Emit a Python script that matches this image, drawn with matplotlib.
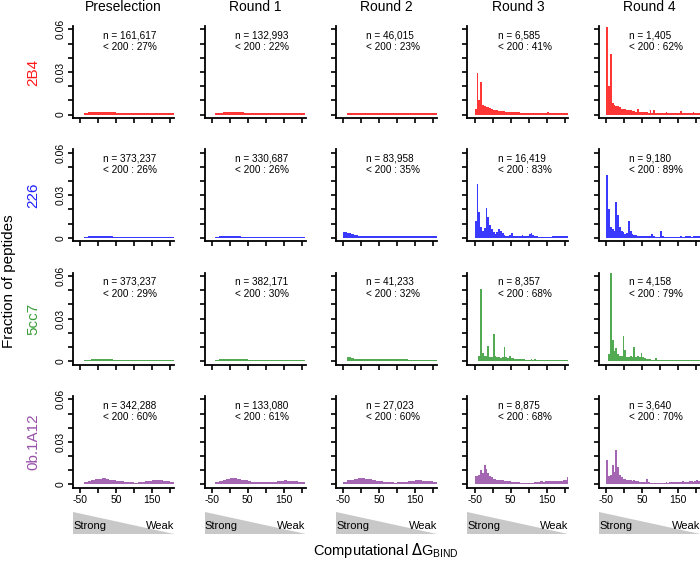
import numpy as np
import matplotlib
matplotlib.use("Agg")
import matplotlib.pyplot as plt
from matplotlib.patches import Polygon

plt.rcParams["font.family"] = ["Liberation Sans", "DejaVu Sans"]

# ---- labels ----
rounds = ["Preselection", "Round 1", "Round 2", "Round 3", "Round 4"]
targets = ["2B4", "226", "5cc7", "0b.1A12"]
target_colors = ["#ff1a1a", "#1f1fff", "#3a9e3a", "#9850a8"]

n_counts = [
    ["161,617", "132,993", "46,015", "6,585", "1,405"],
    ["373,237", "330,687", "83,958", "16,419", "9,180"],
    ["373,237", "382,171", "41,233", "8,357", "4,158"],
    ["342,288", "133,080", "27,023", "8,875", "3,640"],
]
pct_below_200 = [
    [27, 22, 23, 41, 62],
    [26, 26, 35, 83, 89],
    [29, 30, 32, 68, 79],
    [60, 61, 60, 68, 70],
]

# ---- histogram heights (fraction of peptides), bins span -50..210 ----
# 26 values -> 10-unit bins, 52 values -> 5-unit bins
b2b4_pre = [0, 0.0014, 0.0015, 0.0015, 0.0016, 0.0016, 0.0016, 0.0016, 0.0015, 0.0015,
            0.0014, 0.0014, 0.0013, 0.0013, 0.0012, 0.0012, 0.0012, 0.0011, 0.0011, 0.0011,
            0.0011, 0.0011, 0.0010, 0.0010, 0.0010, 0.0010]
b2b4_r1 = [0, 0.0012, 0.0014, 0.0015, 0.0016, 0.0016, 0.0016, 0.0015, 0.0015, 0.0014,
           0.0014, 0.0013, 0.0013, 0.0013, 0.0012, 0.0012, 0.0012, 0.0011, 0.0011, 0.0011,
           0.0011, 0.0011, 0.0010, 0.0010, 0.0010, 0.0010]
b2b4_r2 = [0, 0.0014, 0.0013, 0.0013, 0.0012, 0.0012, 0.0012, 0.0012, 0.0011, 0.0011,
           0.0011, 0.0011, 0.0011, 0.0011, 0.0012, 0.0011, 0.0011, 0.0011, 0.0011, 0.0011,
           0.0011, 0.0011, 0.0011, 0.0011, 0.0011, 0.0011]
b2b4_r3 = [0.004, 0.029, 0.010, 0.023, 0.007, 0.006, 0.0055, 0.005, 0.0045, 0.004,
           0.0035, 0.003, 0.003, 0.0028, 0.0025, 0.0024, 0.0022, 0.002, 0.002, 0.0018,
           0.0018, 0.0016, 0.0016, 0.0015, 0.0015, 0.0014, 0.0014, 0.0013, 0.0013, 0.0013,
           0.0012, 0.0012, 0.0012, 0.0012, 0.0011, 0.0012, 0.0011, 0.0011, 0.0012, 0.0011,
           0.0018, 0.0011, 0.0012, 0.0011, 0.0012, 0.0011, 0.0011, 0.0014, 0.0011, 0.0012,
           0.0011, 0.0011]
b2b4_r4 = [0.062, 0.020, 0.043, 0.008, 0.007, 0.006, 0.006, 0.005, 0.004, 0.004,
           0.004, 0.0035, 0.003, 0.003, 0.0025, 0.0025, 0.002, 0.004, 0.002, 0.002,
           0.0018, 0.0015, 0.0015, 0.0012, 0.0035, 0.0012, 0.003, 0.0012, 0.0010, 0.0010,
           0.0010, 0.0012, 0.0010, 0.0015, 0.0010, 0.0010, 0.0012, 0.0010, 0.0010, 0.0012,
           0.0010, 0.0025, 0.0010, 0.0010, 0.0012, 0.0010, 0.0010, 0.0012, 0.0015, 0.0010,
           0.0012, 0.0010]

b226_pre = [0, 0.0009, 0.0010, 0.0010, 0.0010, 0.0010, 0.0010, 0.0010, 0.0010, 0.0009,
            0.0009, 0.0009, 0.0009, 0.0009, 0.0009, 0.0009, 0.0009, 0.0009, 0.0009, 0.0009,
            0.0009, 0.0009, 0.0009, 0.0009, 0.0009, 0.0009]
b226_r1 = [0, 0.0009, 0.0010, 0.0010, 0.0010, 0.0010, 0.0010, 0.0010, 0.0009, 0.0009,
           0.0009, 0.0009, 0.0009, 0.0009, 0.0009, 0.0009, 0.0009, 0.0009, 0.0009, 0.0009,
           0.0009, 0.0009, 0.0009, 0.0009, 0.0009, 0.0009]
b226_r2 = [0.0045, 0.0035, 0.0025, 0.0020, 0.0015, 0.0013, 0.0012, 0.0012, 0.0012, 0.0011,
           0.0011, 0.0011, 0.0011, 0.0010, 0.0010, 0.0010, 0.0010, 0.0010, 0.0010, 0.0010,
           0.0011, 0.0011, 0.0011, 0.0010, 0.0010, 0.0010]
b226_r3 = [0.012, 0.0377, 0.018, 0.008, 0.005, 0.007, 0.021, 0.015, 0.009, 0.006,
           0.004, 0.003, 0.0045, 0.0065, 0.005, 0.0035, 0.002, 0.0015, 0.0015, 0.0018,
           0.0035, 0.0015, 0.0012, 0.0012, 0.0010, 0.0010, 0.0023, 0.0010, 0.0010, 0.0010,
           0.0025, 0.0035, 0.0020, 0.0012, 0.0010, 0.0008, 0.0008, 0.0008, 0.0008, 0.0008,
           0.0008, 0.0008, 0.0008, 0.0010, 0.0010, 0.0012, 0.0015, 0.0012, 0.0010, 0.0010,
           0.0015, 0.0012]
b226_r4 = [0.044, 0.020, 0.008, 0.006, 0.005, 0.0256, 0.016, 0.008, 0.005, 0.004,
           0.003, 0.0035, 0.0116, 0.005, 0.003, 0.002, 0.0018, 0.0015, 0.0012, 0.0012,
           0.0010, 0.0010, 0.0010, 0.0010, 0.0010, 0.003, 0.0010, 0.0008, 0.0008, 0.0008,
           0.0046, 0.0015, 0.0008, 0.0008, 0.0008, 0.0008, 0.0008, 0.0008, 0.0008, 0.0008,
           0.0008, 0.0010, 0.0008, 0.0008, 0.0010, 0.0012, 0.0010, 0.0008, 0.0010, 0.0012,
           0.0015, 0.0012]

b5cc7_pre = [0, 0.0009, 0.0011, 0.0012, 0.0013, 0.0014, 0.0014, 0.0013, 0.0012, 0.0011,
             0.0011, 0.0010, 0.0010, 0.0010, 0.0010, 0.0010, 0.0010, 0.0009, 0.0009, 0.0009,
             0.0009, 0.0009, 0.0009, 0.0009, 0.0009, 0.0009]
b5cc7_r1 = [0, 0.0010, 0.0012, 0.0013, 0.0014, 0.0015, 0.0015, 0.0014, 0.0013, 0.0012,
            0.0011, 0.0011, 0.0010, 0.0010, 0.0010, 0.0010, 0.0010, 0.0010, 0.0009, 0.0009,
            0.0009, 0.0009, 0.0009, 0.0009, 0.0009, 0.0009]
b5cc7_r2 = [0, 0.0030, 0.0020, 0.0018, 0.0016, 0.0015, 0.0015, 0.0014, 0.0014, 0.0015,
            0.0016, 0.0017, 0.0016, 0.0015, 0.0014, 0.0013, 0.0012, 0.0012, 0.0011, 0.0011,
            0.0011, 0.0010, 0.0010, 0.0010, 0.0010, 0.0010]
b5cc7_r3 = [0, 0, 0.004, 0.0505, 0.006, 0.004, 0.004, 0.0105, 0.003, 0.003,
            0.019, 0.004, 0.003, 0.003, 0.0025, 0.003, 0.010, 0.003, 0.0025, 0.0035,
            0.0025, 0.0020, 0.0015, 0.0015, 0.0015, 0.0012, 0.0012, 0.0015, 0.0010, 0.0010,
            0.0010, 0.0012, 0.0010, 0.0015, 0.0010, 0.0010, 0.0010, 0.0008, 0.0008, 0.0008,
            0.0008, 0.0008, 0.0010, 0.0008, 0.0008, 0.0008, 0.0010, 0.0008, 0.0008, 0.0008,
            0.0008, 0.0008]
b5cc7_r4 = [0, 0.005, 0.062, 0.015, 0.007, 0.009, 0.005, 0.004, 0.004, 0.018,
            0.008, 0.003, 0.003, 0.0035, 0.003, 0.010, 0.003, 0.0035, 0.003, 0.006,
            0.003, 0.002, 0.0015, 0.0015, 0.0012, 0.0010, 0.0010, 0.0025, 0.0008, 0.0006,
            0.0006, 0.0005, 0.0006, 0.0005, 0.0005, 0.0006, 0.0005, 0.0005, 0.0005, 0.0005,
            0.0005, 0.0005, 0.0008, 0.0005, 0.0005, 0.0005, 0.0008, 0.0005, 0.0008, 0.0005,
            0.0008, 0.0005]

b0b_pre = [0, 0.0018, 0.0025, 0.0032, 0.0038, 0.0042, 0.0043, 0.0040, 0.0035, 0.0030,
           0.0026, 0.0022, 0.0019, 0.0017, 0.0015, 0.0014, 0.0015, 0.0018, 0.0022, 0.0026,
           0.0030, 0.0031, 0.0029, 0.0026, 0.0022, 0.0020]
b0b_r1 = [0, 0.0020, 0.0028, 0.0035, 0.0040, 0.0044, 0.0043, 0.0040, 0.0035, 0.0030,
          0.0025, 0.0021, 0.0018, 0.0016, 0.0015, 0.0015, 0.0017, 0.0020, 0.0024, 0.0027,
          0.0029, 0.0028, 0.0026, 0.0023, 0.0021, 0.0019]
b0b_r2 = [0.0015, 0.0030, 0.0035, 0.0040, 0.0045, 0.0045, 0.0042, 0.0038, 0.0033, 0.0028,
          0.0024, 0.0020, 0.0017, 0.0015, 0.0014, 0.0015, 0.0018, 0.0021, 0.0024, 0.0027,
          0.0030, 0.0029, 0.0027, 0.0025, 0.0023, 0.0021]
b0b_r3 = [0.006, 0.006, 0.007, 0.0105, 0.008, 0.0135, 0.011, 0.008, 0.006, 0.005,
          0.004, 0.0038, 0.0035, 0.0033, 0.003, 0.003, 0.0028, 0.0025, 0.0025, 0.0022,
          0.002, 0.002, 0.0018, 0.0016, 0.0015, 0.0014, 0.0013, 0.0012, 0.0012, 0.0012,
          0.0012, 0.0012, 0.0013, 0.0015, 0.0018, 0.002, 0.0022, 0.0022, 0.002, 0.0022,
          0.0025, 0.0028, 0.0025, 0.0022, 0.0025, 0.0022, 0.0025, 0.0022, 0.0025, 0.003,
          0.0035, 0.005]
b0b_r4 = [0.017, 0.006, 0.007, 0.014, 0.009, 0.024, 0.012, 0.007, 0.005, 0.004,
          0.004, 0.0035, 0.003, 0.003, 0.0028, 0.003, 0.0025, 0.0022, 0.002, 0.002,
          0.002, 0.0018, 0.004, 0.0015, 0.0013, 0.0012, 0.001, 0.0012, 0.001, 0.001,
          0.001, 0.0012, 0.001, 0.0015, 0.0012, 0.0015, 0.0018, 0.0015, 0.0018, 0.002,
          0.0018, 0.002, 0.0022, 0.002, 0.0018, 0.002, 0.0022, 0.0025, 0.002, 0.0022,
          0.0035, 0.0025]

hist_grid = [
    [b2b4_pre, b2b4_r1, b2b4_r2, b2b4_r3, b2b4_r4],
    [b226_pre, b226_r1, b226_r2, b226_r3, b226_r4],
    [b5cc7_pre, b5cc7_r1, b5cc7_r2, b5cc7_r3, b5cc7_r4],
    [b0b_pre, b0b_r1, b0b_r2, b0b_r3, b0b_r4],
]

W, H = 700, 562
fig = plt.figure(figsize=(W / 100, H / 100), dpi=100)
fig.patch.set_facecolor("white")

ax_w, ax_h = 101, 92
x0, dx = 73, 131.5
y0, dy = 26, 123.3

yt = [0, 0.01, 0.02, 0.03, 0.04, 0.05, 0.06]
ytl = ["0", "", "", "0.03", "", "", "0.06"]
xt = [-50, 0, 50, 100, 150, 200]
xtl = ["-50", "", "50", "", "150", ""]

for r in range(4):
    for c in range(5):
        left = x0 + dx * c
        top = y0 + dy * r
        ax = fig.add_axes([left / W, 1 - (top + ax_h) / H, ax_w / W, ax_h / H])
        vals = np.asarray(hist_grid[r][c])
        edges = np.linspace(-50, 210, len(vals) + 1)
        ax.stairs(vals, edges, fill=True, color=target_colors[r], alpha=0.88,
                  linewidth=0)
        ax.set_xlim(-70.4, 210.4)
        ax.set_ylim(-0.0024, 0.0624)
        for s in ["top", "right"]:
            ax.spines[s].set_visible(False)
        for s in ["left", "bottom"]:
            ax.spines[s].set_linewidth(1.3)
        ax.tick_params(direction="out", length=3.6, width=1.2, labelsize=7.5, pad=1.5)
        ax.set_yticks(yt)
        ax.set_yticklabels(ytl if c == 0 else [""] * len(yt), rotation=90, va="center")
        ax.set_xticks(xt)
        ax.set_xticklabels(xtl if r == 3 else [""] * len(xt))
        ax.text(0.3, 0.9, f"n = {n_counts[r][c]}", transform=ax.transAxes,
                fontsize=7.2, ha="left", va="center")
        ax.text(0.3, 0.77, f"< 200 : {pct_below_200[r][c]}%", transform=ax.transAxes,
                fontsize=7.2, ha="left", va="center")
        if r == 0:
            fig.text((left + ax_w / 2) / W, 1 - 7 / H, rounds[c], fontsize=10,
                     ha="center", va="center")
        if c == 0:
            fig.text(33 / W, 1 - (top + ax_h / 2) / H, targets[r], fontsize=11,
                     color=target_colors[r], rotation=90, ha="center", va="center")
        if r == 3:
            # strong -> weak wedge under each bottom panel
            tax = fig.add_axes([left / W, 1 - 534 / H, ax_w / W, 22 / H])
            tax.set_xlim(0, 1)
            tax.set_ylim(0, 1)
            tax.axis("off")
            tax.add_patch(Polygon([(0, 1), (0, 0), (1, 0)], closed=True,
                                  facecolor="#c8c8c8", edgecolor="none"))
            tax.text(0.0, 0.38, "Strong", fontsize=8, ha="left", va="center")
            tax.text(1.0, 0.38, "Weak", fontsize=8, ha="right", va="center")

fig.text(9 / W, 1 - 281 / H, "Fraction of peptides", rotation=90, fontsize=11,
         ha="center", va="center")
fig.text(386 / W, 1 - 551 / H, r"Computational $\Delta$G$_{\mathregular{BIND}}$",
         fontsize=10.5, ha="center", va="center")

fig.savefig("out.png", dpi=100, facecolor="white")
